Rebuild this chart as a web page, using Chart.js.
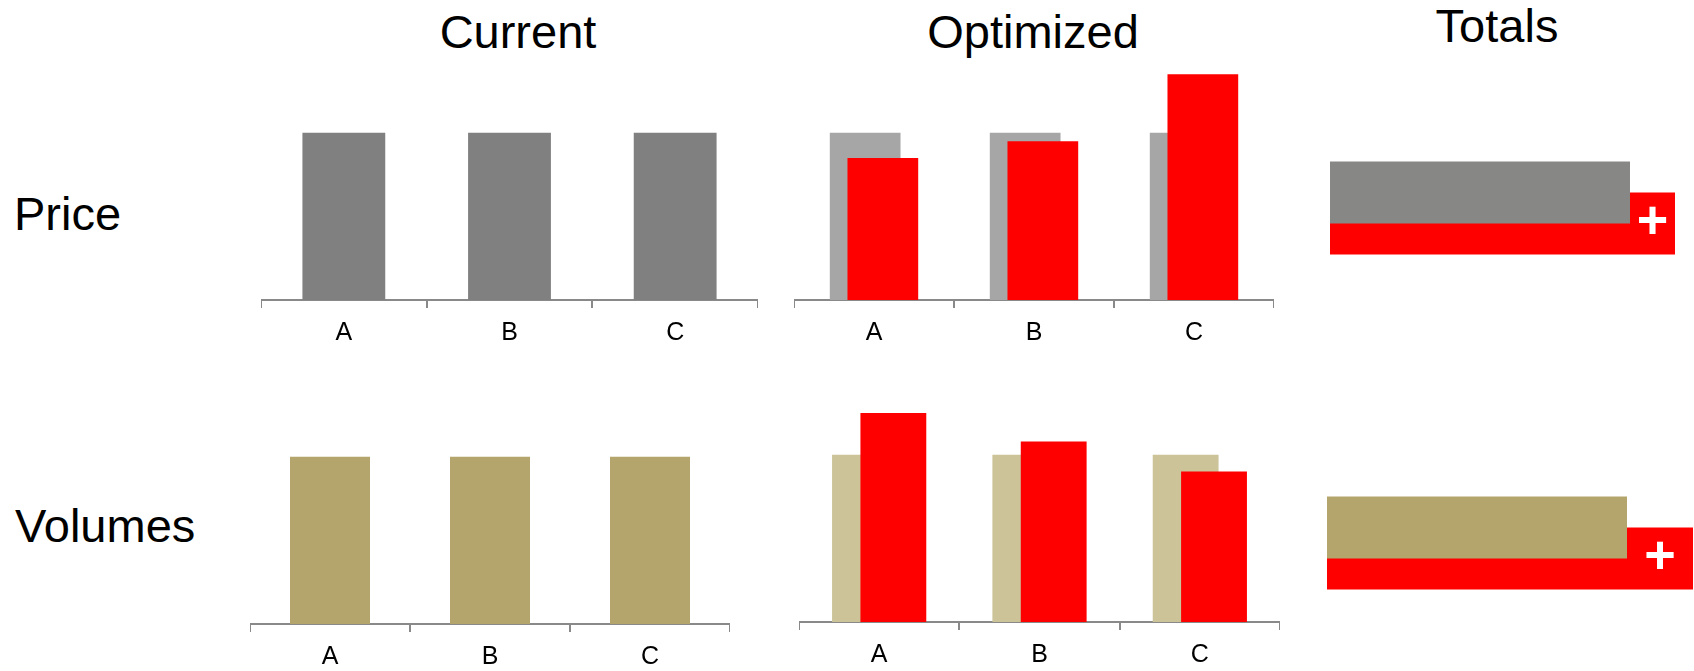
<!DOCTYPE html>
<html>
<head>
<meta charset="utf-8">
<title>Price and volume optimisation</title>
<script src="https://cdn.jsdelivr.net/npm/chart.js@4.4.1/dist/chart.umd.min.js"></script>
<style>
  html, body { margin: 0; padding: 0; background: #fff; width: 1694px; height: 671px; overflow: hidden; }
  .panel { position: absolute; }
  .lbl { position: absolute; font-family: "Liberation Sans", Arial, sans-serif; font-size: 47px; line-height: 47px; color: #000; white-space: nowrap; }
  .head { width: 300px; text-align: center; }
</style>
</head>
<body>
<div class="lbl head" style="left:368px; top:8px;">Current</div>
<div class="lbl head" style="left:883px; top:8px;">Optimized</div>
<div class="lbl head" style="left:1347px; top:2px;">Totals</div>
<div class="lbl" style="left:14px; top:190px;">Price</div>
<div class="lbl" style="left:15px; top:502px;">Volumes</div>

<div class="panel" style="left:261px; top:66px; width:497px; height:292px;"><canvas id="priceCurrent"></canvas></div>
<div class="panel" style="left:794px; top:66px; width:480px; height:292px;"><canvas id="priceOptimized"></canvas></div>
<div class="panel" style="left:1330px; top:158px; width:375px; height:100px;"><canvas id="priceTotals"></canvas></div>
<div class="panel" style="left:250px; top:390px; width:480px; height:292px;"><canvas id="volumeCurrent"></canvas></div>
<div class="panel" style="left:799px; top:388px; width:481px; height:292px;"><canvas id="volumeOptimized"></canvas></div>
<div class="panel" style="left:1327px; top:493px; width:375px; height:100px;"><canvas id="volumeTotals"></canvas></div>

<script>
// Index values (current = 100)
const categories = ['A', 'B', 'C'];
const priceCurrent = [100, 100, 100];
const priceOptimized = [85, 95, 135];
const volumeCurrent = [100, 100, 100];
const volumeOptimized = [125, 108, 90];

const totalLabels = ['Total'];
const priceTotalCurrent = [100];
const priceTotalOptimized = [115];
const volumeTotalCurrent = [100];
const volumeTotalOptimized = [122];

const FONT = '"Liberation Sans", Arial, sans-serif';
const AXIS = '#898989';
const RED = '#FF0000';
const GREY = '#808080';
const GREY_LIGHT = '#A6A6A6';
const GREY_TOTAL = '#878786';
const TAN = '#B3A56C';
const TAN_LIGHT = '#CCC399';

function categoryAxis() {
  return {
    type: 'category',
    offset: true,
    border: { display: true, color: AXIS, width: 2 },
    grid: { offset: true, drawOnChartArea: false, drawTicks: true, tickLength: 8, color: AXIS, lineWidth: 2 },
    ticks: { color: '#000', font: { family: FONT, size: 25 }, padding: 10, maxRotation: 0, autoSkip: false }
  };
}

function baseOptions(extra) {
  return Object.assign({
    responsive: true,
    maintainAspectRatio: false,
    animation: false,
    events: [],
    layout: { padding: 0 },
    plugins: { legend: { display: false }, tooltip: { enabled: false } }
  }, extra);
}

// Draw the optimized series (dataset 1) above the reference bars it overlaps.
const optimizedOnTop = {
  id: 'optimizedOnTop',
  beforeDatasetDraw(chart, args) {
    if (args.index === 1) return false;
  },
  afterDatasetsDraw(chart) {
    chart.getDatasetMeta(1).controller.draw();
  }
};

// White "+" in the part of the optimized total that extends past the current total.
const plusMark = {
  id: 'plusMark',
  afterDatasetsDraw(chart) {
    const cur = chart.getDatasetMeta(0).data[0];
    const opt = chart.getDatasetMeta(1).data[0];
    const ctx = chart.ctx;
    ctx.save();
    ctx.fillStyle = '#FFFFFF';
    ctx.font = 'bold 54px ' + FONT;
    ctx.textAlign = 'center';
    ctx.textBaseline = 'middle';
    ctx.fillText('+', (cur.x + opt.x) / 2, opt.y);
    ctx.restore();
  }
};

function currentChart(id, values, color) {
  return new Chart(document.getElementById(id), {
    type: 'bar',
    data: {
      labels: categories,
      datasets: [{ data: values, backgroundColor: color, categoryPercentage: 1, barPercentage: 0.5 }]
    },
    options: baseOptions({
      scales: { x: categoryAxis(), y: { display: false, min: 0, max: 140 } }
    })
  });
}

function optimizedChart(id, current, optimized, ghost, cp, bp) {
  return new Chart(document.getElementById(id), {
    type: 'bar',
    data: {
      labels: categories,
      datasets: [
        { data: current, backgroundColor: ghost, categoryPercentage: cp, barPercentage: bp },
        { data: optimized, backgroundColor: RED, categoryPercentage: cp, barPercentage: bp }
      ]
    },
    options: baseOptions({
      scales: { x: categoryAxis(), y: { display: false, min: 0, max: 140 } }
    }),
    plugins: [optimizedOnTop]
  });
}

function totalsChart(id, current, optimized, color) {
  return new Chart(document.getElementById(id), {
    type: 'bar',
    data: {
      labels: totalLabels,
      datasets: [
        { data: current, backgroundColor: color, categoryPercentage: 0.62, barPercentage: 2 },
        { data: optimized, backgroundColor: RED, categoryPercentage: 0.62, barPercentage: 2 }
      ]
    },
    options: baseOptions({
      indexAxis: 'y',
      scales: { x: { display: false, min: 0, max: 125 }, y: { display: false } }
    }),
    plugins: [plusMark]
  });
}

currentChart('priceCurrent', priceCurrent, GREY);
optimizedChart('priceOptimized', priceCurrent, priceOptimized, GREY_LIGHT, 0.221, 4.0);
totalsChart('priceTotals', priceTotalCurrent, priceTotalOptimized, GREY_TOTAL);

currentChart('volumeCurrent', volumeCurrent, TAN);
optimizedChart('volumeOptimized', volumeCurrent, volumeOptimized, TAN_LIGHT, 0.354, 2.32);
totalsChart('volumeTotals', volumeTotalCurrent, volumeTotalOptimized, TAN);
</script>
</body>
</html>
